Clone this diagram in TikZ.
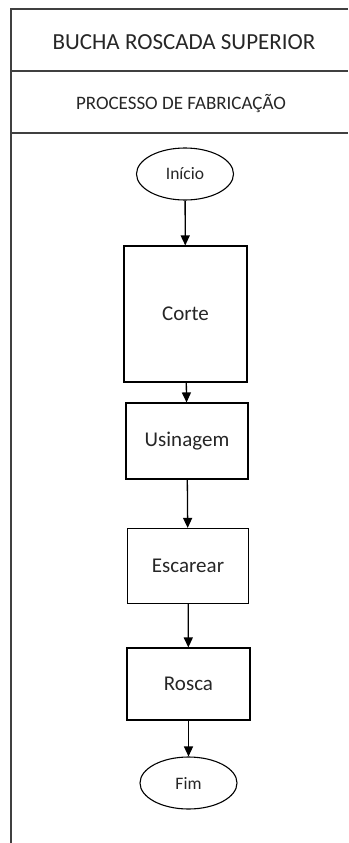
\documentclass[tikz,border=0pt]{standalone}
\usepackage{fontspec}
\setmainfont{Carlito}
\usetikzlibrary{shapes.geometric, arrows.meta}
\definecolor{framegray}{RGB}{64,64,64}
\definecolor{inkgray}{RGB}{38,38,38}

\begin{document}
\begin{tikzpicture}[x=1pt, y=-1pt, >={Triangle[length=10pt, width=9pt]}]
  \tikzstyle{procbox} = [rectangle, draw=black, line width=1.1pt, minimum width=122pt, font=\fontsize{21}{25}\selectfont\color{inkgray}]
  \tikzstyle{terminal} = [ellipse, draw=black, line width=1.1pt, minimum width=97pt, minimum height=52pt, inner sep=0pt, font=\fontsize{17.5}{20}\selectfont\color{inkgray}]
  \tikzstyle{header} = [font=\fontsize{23}{27}\selectfont\color{inkgray}]
  \tikzstyle{flow} = [->, line width=1.3pt, black]

  \useasboundingbox (0,0) rectangle (348,843);

  % frame of the sheet
  \draw[framegray, line width=2pt] (348,9) -- (11,9) -- (11,843);
  \draw[framegray, line width=2pt] (11,71) -- (348,71);
  \draw[framegray, line width=2pt] (11,133) -- (348,133);

  \node [header] (title) at (184,42) {BUCHA ROSCADA SUPERIOR};
  \node [header, font=\fontsize{19}{23}\selectfont\color{inkgray}] (subtitle) at (181,104) {PROCESSO DE FABRICAÇÃO};

  % steps
  \node [terminal] (inicio) at (185,174) {Início};
  \node [procbox, minimum height=136pt, minimum width=123pt] (corte) at (185.5,314) {Corte};
  \node [procbox, minimum height=76pt] (usinagem) at (187,441) {Usinagem};
  \node [procbox, minimum height=75pt, minimum width=121pt] (escarear) at (188,566) {Escarear};
  \node [procbox, minimum height=72pt, minimum width=123pt] (rosca) at (188.5,684) {Rosca};
  \node [terminal] (fim) at (188.5,783) {Fim};

  \draw[flow] (inicio) -- (corte);
  \draw[flow] (corte) -- (usinagem);
  \draw[flow] (usinagem) -- (escarear);
  \draw[flow] (escarear) -- (rosca);
  \draw[flow] (rosca) -- (fim);
\end{tikzpicture}
\end{document}
